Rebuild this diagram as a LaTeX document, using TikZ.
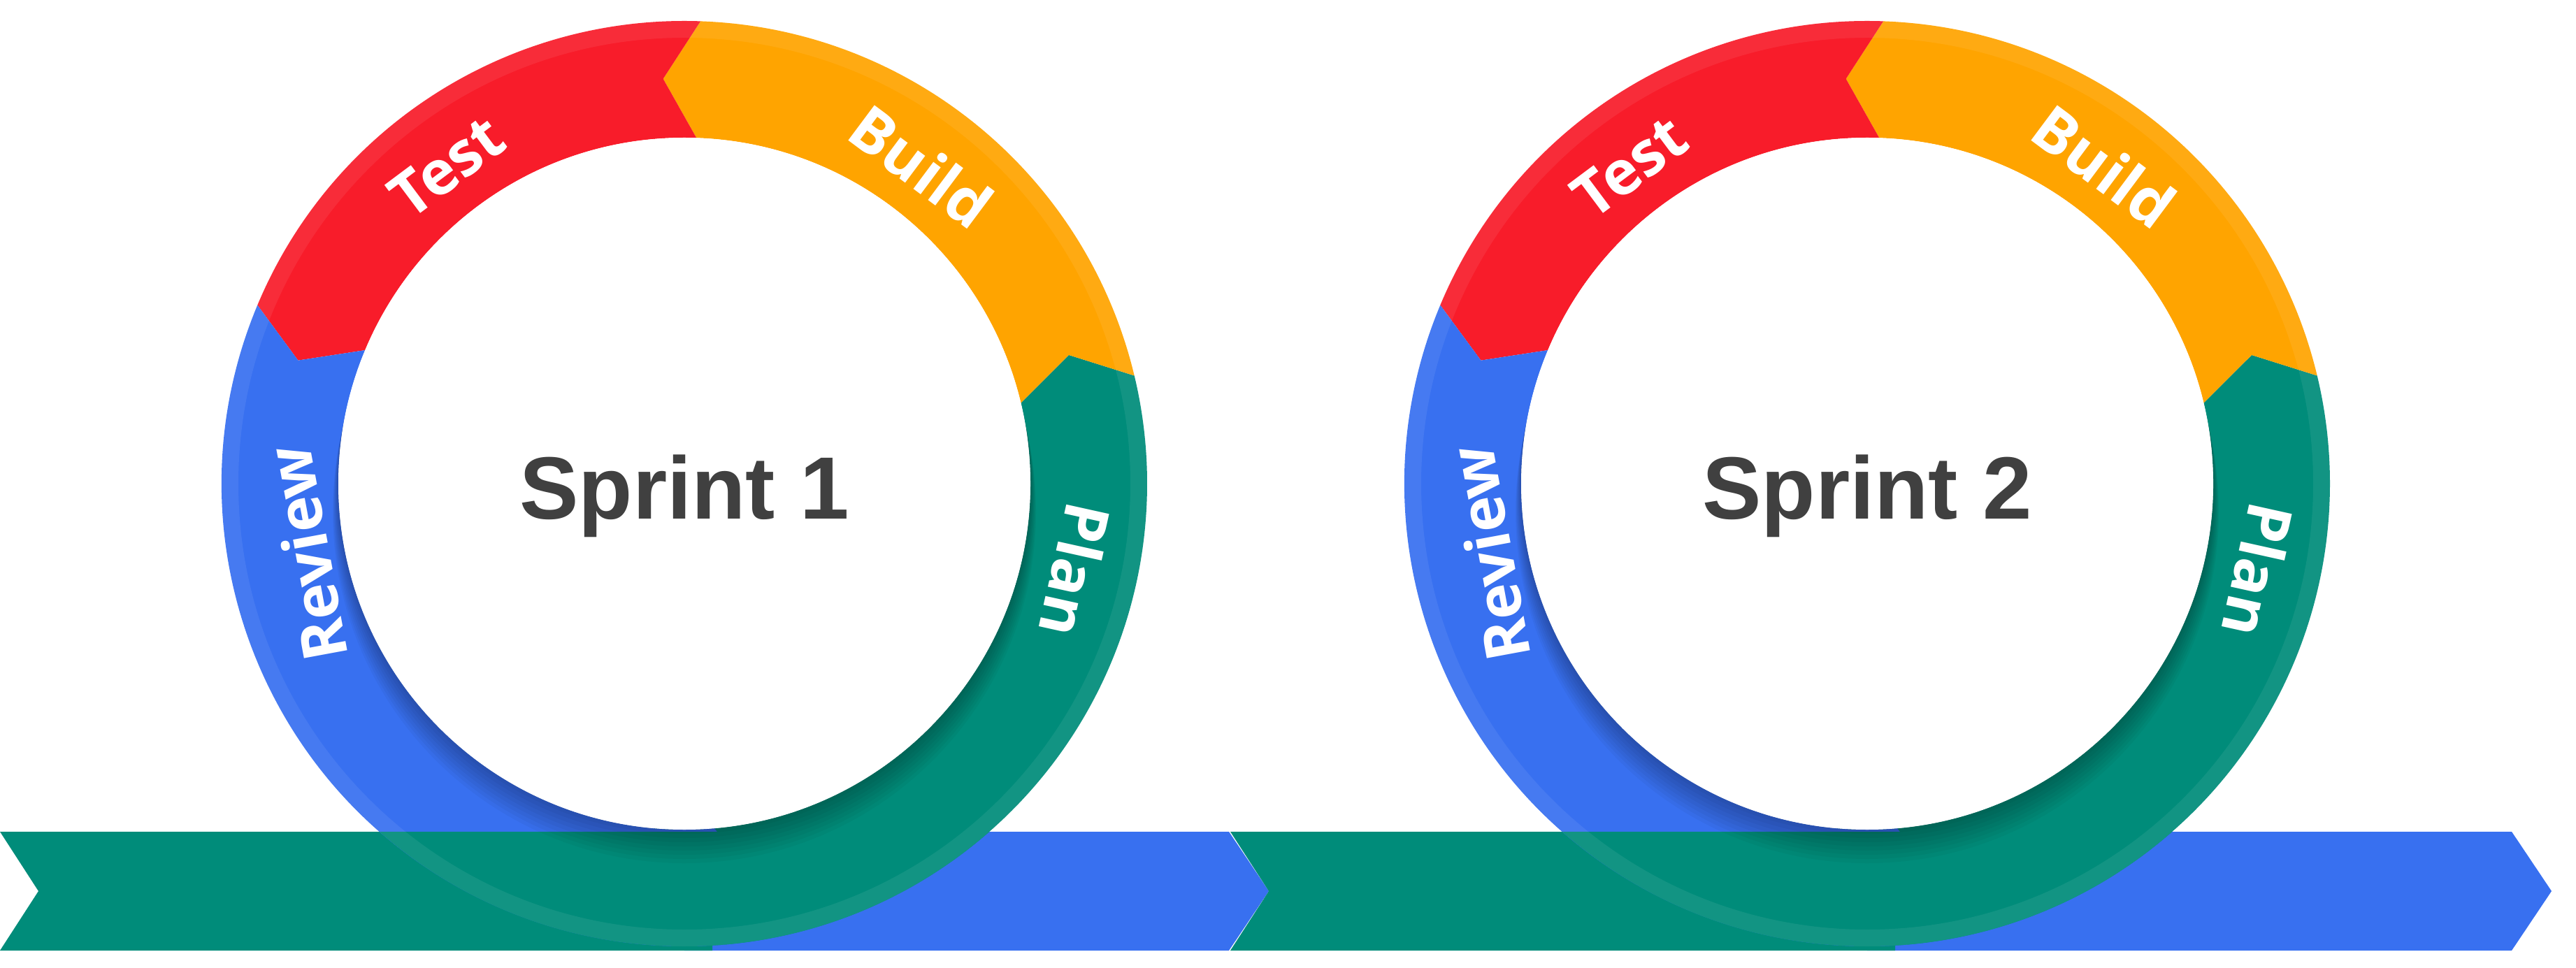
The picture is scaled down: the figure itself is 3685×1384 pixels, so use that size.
\documentclass[tikz,border=0pt]{standalone}
\usepackage{xcolor}
\usepackage{fontspec}
\usepackage{tikz}
\newfontfamily\labelfont{Open Sans}
\newfontfamily\titlefont{Liberation Sans}
\definecolor{reviewblue}{HTML}{3870F0}
\definecolor{testred}{HTML}{F81C2A}
\definecolor{buildorange}{HTML}{FFA400}
\definecolor{planteal}{HTML}{008C7A}
\definecolor{titlegray}{HTML}{404040}
% one coloured piece of the loop, arrow tip on its ccw end
\newcommand{\ringseg}[3]{%
  \fill[#3] (#1:662) arc[start angle=#1, end angle=#2, radius=662] -- ({#2+5}:580)
    -- (#2:495) arc[start angle=#2, end angle=#1, radius=495] -- ({#1+5}:580) -- cycle;}
\newcommand{\sprintloop}[2]{%
  \begin{scope}[shift={(#1,692)}]
    \ringseg{-95}{13.5}{planteal}
    \ringseg{13.5}{88}{buildorange}
    \ringseg{88}{157.3}{testred}
    \ringseg{157.3}{275}{reviewblue}
    \begin{scope}
      \clip (-700,-668) rectangle (700,-498);
      \fill[planteal] (0,0) circle[radius=662];
    \end{scope}
    \fill[white, fill opacity=0.07, even odd rule] (0,0) circle[radius=662] (0,0) circle[radius=638];
    \foreach \k in {1,...,8} { \fill[black, fill opacity=0.035] (0,{-5*\k}) circle[radius={495+\k}]; }
    \fill[white] (0,0) circle[radius=495];
    \node[sprinttitle] (title#2) at (0,-50) {Sprint #2};
    \node[seglabel, rotate=36.8] (test#2) at (126.8:567) {Test};
    \node[seglabel, rotate=-36.7] (build#2) at (53.3:567) {Build};
    \node[seglabel, rotate=-102.5] (plan#2) at (-12.5:573) {Plan};
    \node[seglabel, rotate=100.5] (review#2) at (190.5:550) {Review};
  \end{scope}}

\begin{document}
\begin{tikzpicture}[x=0.01cm, y=0.01cm,
    seglabel/.style={text=white, inner sep=0pt, font=\labelfont\bfseries\fontsize{25}{30}\selectfont},
    sprinttitle/.style={text=titlegray, inner sep=0pt, anchor=base, font=\titlefont\bfseries\fontsize{36}{42}\selectfont}]
  \useasboundingbox (0,0) rectangle (3685,1384);
  % ribbon: blue arrow, green tail with notch
  \foreach \lx/\cx/\tx in {0/979/1815, 1760/2671/3650} {
    \fill[reviewblue] (\cx,194) -- ({\tx-57},194) -- (\tx,109) -- ({\tx-57},24) -- (\cx,24) -- cycle;
    \fill[planteal] (\lx,194) -- ({\cx+40},194) -- ({\cx+40},24) -- (\lx,24) -- ({\lx+55},109) -- cycle;
  }
  \sprintloop{979}{1}
  \sprintloop{2671}{2}
\end{tikzpicture}
\end{document}
